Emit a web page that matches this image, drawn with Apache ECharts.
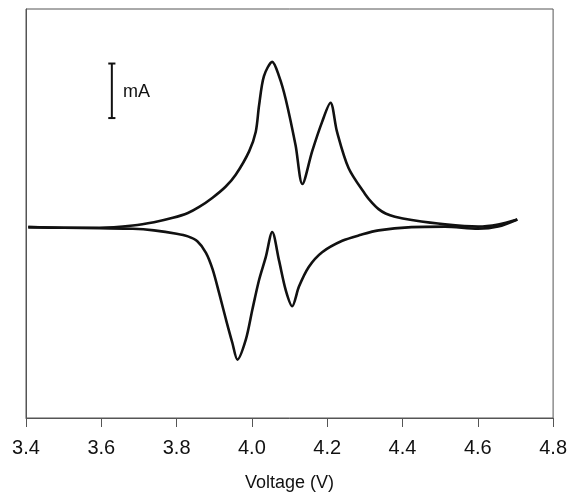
<!DOCTYPE html>
<html>
<head>
<meta charset="utf-8">
<script src="https://cdn.jsdelivr.net/npm/echarts@6/dist/echarts.min.js"></script>
<style>html,body{margin:0;padding:0;background:#fff}#c{width:570px;height:497px}</style>
</head>
<body>
<div id="c"></div>
<script>
// Forward (anodic) scan
var forwardVoltage = [3.406, 3.50, 3.596, 3.684, 3.740, 3.790, 3.830, 3.860, 3.8955, 3.930, 3.957, 3.9926, 4.0103, 4.019, 4.032, 4.054, 4.072, 4.0897, 4.116, 4.134, 4.160, 4.1865, 4.2087, 4.226, 4.257, 4.3013, 4.320, 4.3365, 4.355, 4.380, 4.4246, 4.513, 4.601, 4.654, 4.705];
var forwardCurrent = [0.00, -0.01, -0.01, 0.03, 0.09, 0.17, 0.26, 0.37, 0.54, 0.74, 0.96, 1.39, 1.75, 2.23, 2.77, 3.03, 2.77, 2.35, 1.50, 0.79, 1.39, 1.93, 2.28, 1.75, 1.08, 0.60, 0.44, 0.33, 0.25, 0.19, 0.13, 0.05, 0.01, 0.05, 0.14];
// Reverse (cathodic) scan, listed in increasing voltage
var reverseVoltage = [3.406, 3.50, 3.596, 3.684, 3.740, 3.800, 3.830, 3.855, 3.878, 3.8955, 3.913, 3.931, 3.948, 3.9616, 3.984, 4.0013, 4.019, 4.0368, 4.054, 4.072, 4.0897, 4.107, 4.125, 4.151, 4.1865, 4.240, 4.290, 4.3365, 4.424, 4.513, 4.601, 4.654, 4.705];
var reverseCurrent = [0.00, -0.01, -0.02, -0.03, -0.06, -0.12, -0.17, -0.26, -0.47, -0.77, -1.21, -1.69, -2.12, -2.43, -2.06, -1.51, -0.97, -0.55, -0.09, -0.61, -1.15, -1.45, -1.09, -0.73, -0.46, -0.25, -0.14, -0.06, 0.00, 0.01, -0.03, 0.01, 0.14];
// x-axis tick labels
var xTicks = ['3.4', '3.6', '3.8', '4.0', '4.2', '4.4', '4.6', '4.8'];
// scale bar: 1 mA
var scaleBarX = 3.628;
var scaleBarRange = [2, 3];
var scaleBarLabel = 'mA';

function zip(a, b) { return a.map(function (v, i) { return [v, b[i]]; }); }

var chart = echarts.init(document.getElementById('c'));
var font = '"Liberation Sans", Arial, sans-serif';
var lineStyle = { color: '#111', width: 2.6 };
var capHalf = 0.0095;

chart.setOption({
  backgroundColor: '#fff',
  animation: false,
  grid: { left: 26, right: 15, top: 9, bottom: 74, show: true, borderColor: '#555', borderWidth: 1, backgroundColor: 'transparent' },
  xAxis: {
    type: 'value', min: 3.4, max: 4.8, interval: 0.2,
    name: 'Voltage (V)', nameLocation: 'middle', nameGap: 56,
    nameTextStyle: { fontFamily: font, fontSize: 18, color: '#111' },
    axisLine: { show: true, onZero: false, lineStyle: { color: '#555', width: 1 } },
    axisTick: { show: true, inside: false, length: 9, lineStyle: { color: '#555' } },
    axisLabel: { margin: 20, fontFamily: font, fontSize: 20, color: '#111',
      formatter: function (v) { var s = v.toFixed(1); return xTicks.indexOf(s) >= 0 ? s : ''; } },
    splitLine: { show: false }
  },
  yAxis: {
    type: 'value', min: -3.5, max: 4.0,
    axisLine: { show: true, onZero: false, lineStyle: { color: '#555', width: 1 } },
    axisTick: { show: false }, axisLabel: { show: false }, splitLine: { show: false }
  },
  series: [
    { type: 'line', data: zip(forwardVoltage, forwardCurrent), showSymbol: false, smooth: 0.3, lineStyle: lineStyle },
    { type: 'line', data: zip(reverseVoltage, reverseCurrent), showSymbol: false, smooth: 0.3, lineStyle: lineStyle },
    { type: 'line', data: [[scaleBarX, scaleBarRange[0]], [scaleBarX, scaleBarRange[1]]], showSymbol: false, lineStyle: { color: '#111', width: 2 } },
    { type: 'line', data: [[scaleBarX - capHalf, scaleBarRange[0]], [scaleBarX + capHalf, scaleBarRange[0]]], showSymbol: false, lineStyle: { color: '#111', width: 2 } },
    { type: 'line', data: [[scaleBarX - capHalf, scaleBarRange[1]], [scaleBarX + capHalf, scaleBarRange[1]]], showSymbol: false, lineStyle: { color: '#111', width: 2 } }
  ],
  graphic: [
    { type: 'text', left: 123, top: 83, style: { text: scaleBarLabel, fontFamily: font, fontSize: 18, fill: '#111' } }
  ]
});
</script>
</body>
</html>
